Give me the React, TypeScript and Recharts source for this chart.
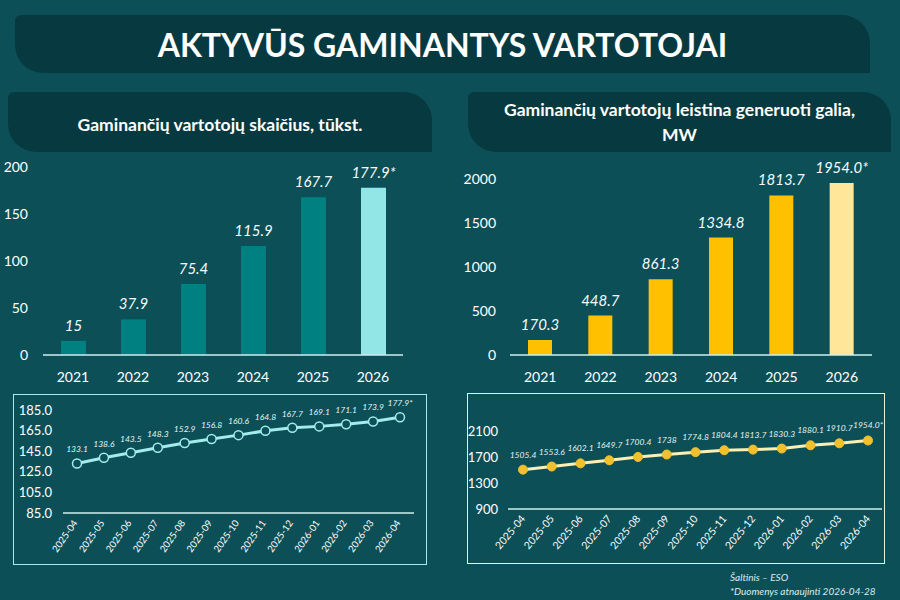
import React from "react";
import { BarChart, Bar, XAxis, YAxis, Cell, LabelList, LineChart, Line } from "recharts";

// ---------- data ----------
const years = ["2021", "2022", "2023", "2024", "2025", "2026"];
const consumersThousand = [15, 37.9, 75.4, 115.9, 167.7, 177.9];
const consumerBarLabels = ["15", "37.9", "75.4", "115.9", "167.7", "177.9*"];
const consumerBarTicks = [0, 50, 100, 150, 200];

const capacityMW = [170.3, 448.7, 861.3, 1334.8, 1813.7, 1954.0];
const capacityBarLabels = ["170.3", "448.7", "861.3", "1334.8", "1813.7", "1954.0*"];
const capacityBarTicks = [0, 500, 1000, 1500, 2000];

const months = [
  "2025-04", "2025-05", "2025-06", "2025-07", "2025-08", "2025-09", "2025-10",
  "2025-11", "2025-12", "2026-01", "2026-02", "2026-03", "2026-04",
];
const monthlyConsumers = [133.1, 138.6, 143.5, 148.3, 152.9, 156.8, 160.6, 164.8, 167.7, 169.1, 171.1, 173.9, 177.9];
const monthlyConsumerLabels = ["133.1", "138.6", "143.5", "148.3", "152.9", "156.8", "160.6", "164.8", "167.7", "169.1", "171.1", "173.9", "177.9*"];
const monthlyConsumerTicks = [85, 105, 125, 145, 165, 185];

const monthlyCapacity = [1505.4, 1553.6, 1602.1, 1649.7, 1700.4, 1738, 1774.8, 1804.4, 1813.7, 1830.3, 1880.1, 1910.7, 1954.0];
const monthlyCapacityLabels = ["1505.4", "1553.6", "1602.1", "1649.7", "1700.4", "1738", "1774.8", "1804.4", "1813.7", "1830.3", "1880.1", "1910.7", "1954.0*"];
const monthlyCapacityTicks = [900, 1300, 1700, 2100];

// ---------- style ----------
const BG = "#0c4f57";
const BANNER = "#073a40";
const FONT = "Lato, 'Open Sans', sans-serif";
const TEAL = "#008080";
const TEAL_LIGHT = "#93e6e6";
const YELLOW = "#ffc000";
const YELLOW_LIGHT = "#ffe699";
const AXIS = "#cdeeee";
const LINE1 = "#a3ecec";
const LINE2 = "#fbefb4";
const DOT2 = "#f2c02c";

const consumerRows = years.map((year, i) => ({ year, value: consumersThousand[i], label: consumerBarLabels[i] }));
const capacityRows = years.map((year, i) => ({ year, value: capacityMW[i], label: capacityBarLabels[i] }));
const monthlyConsumerRows = months.map((month, i) => ({ month, value: monthlyConsumers[i], label: monthlyConsumerLabels[i] }));
const monthlyCapacityRows = months.map((month, i) => ({ month, value: monthlyCapacity[i], label: monthlyCapacityLabels[i] }));

const makeLabel = (gap: number, size: number, color: string) => (props: any) => {
  const vb = props.viewBox || {};
  const x0 = props.x ?? vb.x ?? 0;
  const w = props.width ?? vb.width ?? 0;
  const y0 = props.y ?? vb.y ?? 0;
  return (
    <text x={x0 + w / 2} y={y0 - gap} textAnchor="middle" fill={color} fontSize={size} fontStyle="italic" fontFamily={FONT}>
      {props.value}
    </text>
  );
};

const makeRotTick = (dx: number, dy: number, angle: number, size: number) => (props: any) => {
  const { x, y, payload } = props;
  return (
    <g transform={`translate(${x + dx},${y + dy})`}>
      <text x={0} y={0} textAnchor="end" fill="#ffffff" fontSize={size} fontFamily={FONT} transform={`rotate(${angle})`}>
        {payload.value}
      </text>
    </g>
  );
};

const Banner = ({ left, top, width, height, children }: any) => (
  <div
    style={{
      position: "absolute",
      left,
      top,
      width,
      height,
      background: BANNER,
      borderRadius: "6px 28px 0 28px",
      display: "flex",
      alignItems: "center",
      justifyContent: "center",
      textAlign: "center",
      color: "#ffffff",
    }}
  >
    {children}
  </div>
);

export default function App() {
  return (
    <div
      style={{
        position: "fixed",
        left: 0,
        top: 0,
        width: 900,
        height: 600,
        background: BG,
        overflow: "hidden",
        fontFamily: FONT,
      }}
    >
      <Banner left={15} top={15} width={855} height={58}>
        <span style={{ fontSize: 32, fontWeight: 700, letterSpacing: 0 }}>AKTYVŪS GAMINANTYS VARTOTOJAI</span>
      </Banner>
      <Banner left={8} top={92} width={424} height={60}>
        <span style={{ fontSize: 17.5, fontWeight: 700, position: "relative", top: 2 }}>Gaminančių vartotojų skaičius, tūkst.</span>
      </Banner>
      <Banner left={468} top={92} width={423} height={60}>
        <span style={{ fontSize: 17.5, fontWeight: 700, lineHeight: "25px" }}>
          Gaminančių vartotojų leistina generuoti galia,
          <br />
          MW
        </span>
      </Banner>

      {/* left bar chart */}
      <div style={{ position: "absolute", left: 0, top: 150 }}>
        <BarChart width={450} height={240} data={consumerRows} margin={{ top: 17, right: 47, left: 0, bottom: 5 }} barSize={25}>
          <XAxis
            dataKey="year"
            axisLine={{ stroke: AXIS, strokeWidth: 1.5 }}
            tickLine={false}
            tick={{ fill: "#ffffff", fontSize: 14, fontFamily: FONT }}
            tickMargin={11}
            height={30}
          />
          <YAxis
            width={43}
            domain={[0, 200]}
            ticks={consumerBarTicks}
            interval={0}
            axisLine={false}
            tickLine={false}
            tick={{ fill: "#ffffff", fontSize: 14, fontFamily: FONT }}
            tickMargin={9}
          />
          <Bar dataKey="value" isAnimationActive={false}>
            {consumerRows.map((r, i) => (
              <Cell key={r.year} fill={i === consumerRows.length - 1 ? TEAL_LIGHT : TEAL} />
            ))}
            <LabelList dataKey="label" content={makeLabel(10, 15, "#f4fbfb")} />
          </Bar>
        </BarChart>
      </div>

      {/* right bar chart */}
      <div style={{ position: "absolute", left: 450, top: 150 }}>
        <BarChart width={450} height={240} data={capacityRows} margin={{ top: 29, right: 28, left: 0, bottom: 5 }} barSize={24}>
          <XAxis
            dataKey="year"
            axisLine={{ stroke: AXIS, strokeWidth: 1.5 }}
            tickLine={false}
            tick={{ fill: "#ffffff", fontSize: 14, fontFamily: FONT }}
            tickMargin={11}
            height={30}
          />
          <YAxis
            width={60}
            domain={[0, 2000]}
            ticks={capacityBarTicks}
            interval={0}
            axisLine={false}
            tickLine={false}
            tick={{ fill: "#ffffff", fontSize: 14, fontFamily: FONT }}
            tickMargin={8}
          />
          <Bar dataKey="value" isAnimationActive={false}>
            {capacityRows.map((r, i) => (
              <Cell key={r.year} fill={i === capacityRows.length - 1 ? YELLOW_LIGHT : YELLOW} />
            ))}
            <LabelList dataKey="label" content={makeLabel(10, 15, "#f4fbfb")} />
          </Bar>
        </BarChart>
      </div>

      {/* left line chart */}
      <div
        style={{
          position: "absolute",
          left: 13,
          top: 394,
          width: 414,
          height: 171,
          boxSizing: "border-box",
          border: `1.5px solid ${LINE1}`,
        }}
      />
      <div style={{ position: "absolute", left: 14, top: 395 }}>
        <LineChart width={412} height={169} data={monthlyConsumerRows} margin={{ top: 15, right: 12, left: 0, bottom: 6 }}>
          <XAxis
            dataKey="month"
            interval={0}
            padding={{ left: 14, right: 14 }}
            axisLine={{ stroke: AXIS, strokeWidth: 1.5 }}
            tickLine={false}
            tickSize={0}
            tickMargin={0}
            height={45}
            tick={makeRotTick(1, 10, -55, 9.5)}
          />
          <YAxis
            width={49}
            domain={[85, 185]}
            ticks={monthlyConsumerTicks}
            interval={0}
            tickFormatter={(v: number) => v.toFixed(1)}
            axisLine={false}
            tickLine={false}
            tick={{ fill: "#ffffff", fontSize: 13, fontFamily: FONT }}
            tickMargin={5}
          />
          <Line
            dataKey="value"
            stroke={LINE1}
            strokeWidth={3}
            dot={{ r: 4.5, fill: BG, stroke: LINE1, strokeWidth: 1.5 }}
            isAnimationActive={false}
          >
            <LabelList dataKey="label" content={makeLabel(11, 8.5, "#e6f6f6")} />
          </Line>
        </LineChart>
      </div>

      {/* right line chart */}
      <div
        style={{
          position: "absolute",
          left: 467,
          top: 393,
          width: 418,
          height: 171,
          boxSizing: "border-box",
          border: `1.5px solid #e2f2dc`,
        }}
      />
      <div style={{ position: "absolute", left: 468, top: 394 }}>
        <LineChart width={416} height={169} data={monthlyCapacityRows} margin={{ top: 11, right: 2, left: 0, bottom: 4 }}>
          <XAxis
            dataKey="month"
            interval={0}
            padding={{ left: 15, right: 14 }}
            axisLine={{ stroke: AXIS, strokeWidth: 1.5 }}
            tickLine={false}
            tickSize={0}
            tickMargin={0}
            height={50}
            tick={makeRotTick(3, 10, -50, 10.5)}
          />
          <YAxis
            width={40}
            domain={[900, 2500]}
            ticks={monthlyCapacityTicks}
            interval={0}
            axisLine={false}
            tickLine={false}
            tick={{ fill: "#ffffff", fontSize: 13, fontFamily: FONT }}
            tickMargin={4}
          />
          <Line
            dataKey="value"
            stroke={LINE2}
            strokeWidth={3}
            dot={{ r: 4.5, fill: DOT2, stroke: DOT2, strokeWidth: 1 }}
            isAnimationActive={false}
          >
            <LabelList dataKey="label" content={makeLabel(12, 8.5, "#e8f2ee")} />
          </Line>
        </LineChart>
      </div>

      <div
        style={{
          position: "absolute",
          left: 730,
          top: 570,
          fontSize: 10,
          fontStyle: "italic",
          color: "#dfeaea",
          lineHeight: "14px",
          whiteSpace: "nowrap",
        }}
      >
        Šaltinis – ESO
        <br />
        *Duomenys atnaujinti 2026-04-28
      </div>
    </div>
  );
}
